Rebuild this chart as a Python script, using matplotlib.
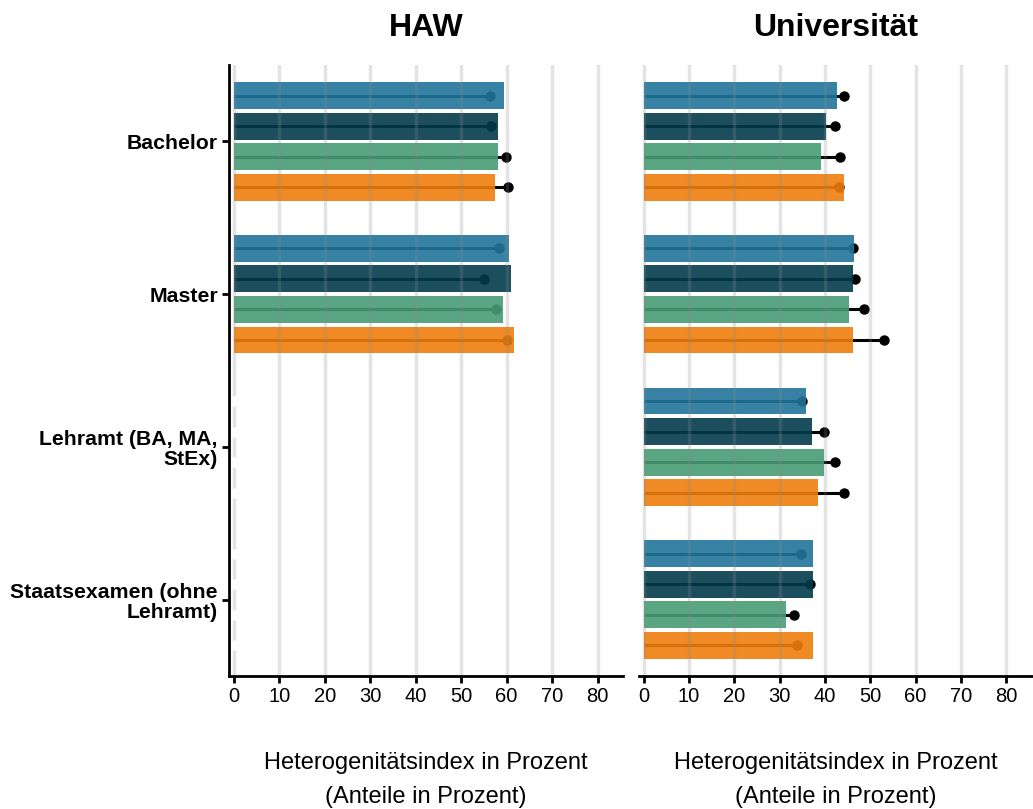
import numpy as np
import matplotlib
matplotlib.use("Agg")
import matplotlib.pyplot as plt

plt.rcParams['font.family'] = ['Liberation Sans', 'DejaVu Sans']

# Kategorien (Abschlussart) und Reihen
abschluesse = ["Bachelor", "Master", "Lehramt (BA, MA,\nStEx)", "Staatsexamen (ohne\nLehramt)"]
reihen = ["Reihe 1", "Reihe 2", "Reihe 3", "Reihe 4"]
farben = ["#21759a", "#033b4c", "#489b74", "#ee7d0c"]

# HAW: Balken (Heterogenitätsindex) und Punkte (Anteile), NaN = keine Daten
haw_balken = [
    [59.4, 58.1, 58.1, 57.5],
    [60.5, 61.0, 59.2, 61.6],
    [np.nan] * 4,
    [np.nan] * 4,
]
haw_punkte = [
    [56.4, 56.5, 59.8, 60.4],
    [58.4, 55.1, 57.7, 60.1],
    [np.nan] * 4,
    [np.nan] * 4,
]

# Universität
uni_balken = [
    [42.7, 40.3, 39.2, 44.2],
    [46.4, 46.2, 45.3, 46.2],
    [35.7, 37.2, 39.8, 38.5],
    [37.4, 37.4, 31.5, 37.4],
]
uni_punkte = [
    [44.1, 42.3, 43.2, 43.0],
    [46.1, 46.7, 48.7, 53.0],
    [34.9, 39.7, 42.1, 44.1],
    [34.6, 36.6, 33.2, 33.9],
]

fig = plt.figure(figsize=(10.33, 8.09), dpi=100)
ax1 = fig.add_axes([229 / 1033, 1 - 676 / 809, (623 - 229) / 1033, (676 - 65) / 809])
ax2 = fig.add_axes([639 / 1033, 1 - 676 / 809, (1033 - 639) / 1033, (676 - 65) / 809])


def panel(ax, balken, punkte, titel, links):
    for g in range(len(abschluesse)):
        for k in range(len(reihen)):
            y = g * 5 + (k - 1.5)
            b = balken[g][k]
            p = punkte[g][k]
            if np.isnan(p):
                # fehlende Werte: weißer Punkt bei 0
                ax.plot([0], [y], 'o', color='white', ms=6.5, zorder=4.5, clip_on=False)
            else:
                ax.plot([0, p], [y, y], color='black', lw=2.2, zorder=2, solid_capstyle='butt')
                ax.plot([p], [y], 'o', color='black', ms=6.5, zorder=2)
            if not np.isnan(b):
                ax.barh(y, b, height=0.88, color=farben[k], alpha=0.9, zorder=3, linewidth=0)
    # Gitterlinien liegen über den Balken
    for xv in range(0, 90, 10):
        ax.axvline(xv, color='#8a8a8a', alpha=0.24, lw=2.5, zorder=4)
    ax.set_ylim(17.5, -2.5)
    ax.set_xticks(range(0, 90, 10))
    ax.tick_params(axis='x', length=5, width=2, labelsize=14.5, pad=3)
    ax.spines['top'].set_visible(False)
    ax.spines['right'].set_visible(False)
    ax.spines['bottom'].set_linewidth(2)
    ax.spines['left'].set_linewidth(2)
    ax.spines['bottom'].set_zorder(5)
    ax.spines['left'].set_zorder(5)
    ax.set_title(titel, fontsize=23, fontweight='bold', pad=21)
    if links:
        ax.set_yticks([g * 5 for g in range(len(abschluesse))])
        ax.set_yticklabels(abschluesse, fontweight='bold', fontsize=15.3, linespacing=1.1)
        ax.tick_params(axis='y', length=5, width=2, pad=3)
    else:
        ax.spines['left'].set_visible(False)
        ax.set_yticks([])


panel(ax1, haw_balken, haw_punkte, "HAW", True)
ax1.set_xlim(-1.05, 85.6)
panel(ax2, uni_balken, uni_punkte, "Universität", False)
ax2.set_xlim(-1.05, 85.9)

for xc in [(229 + 623) / 2 / 1033, (639 + 1033) / 2 / 1033]:
    fig.text(xc, 1 - 763 / 809, "Heterogenitätsindex in Prozent", ha='center', va='center', fontsize=17)
    fig.text(xc, 1 - 797 / 809, "(Anteile in Prozent)", ha='center', va='center', fontsize=17)

fig.savefig("out.png", dpi=100)
